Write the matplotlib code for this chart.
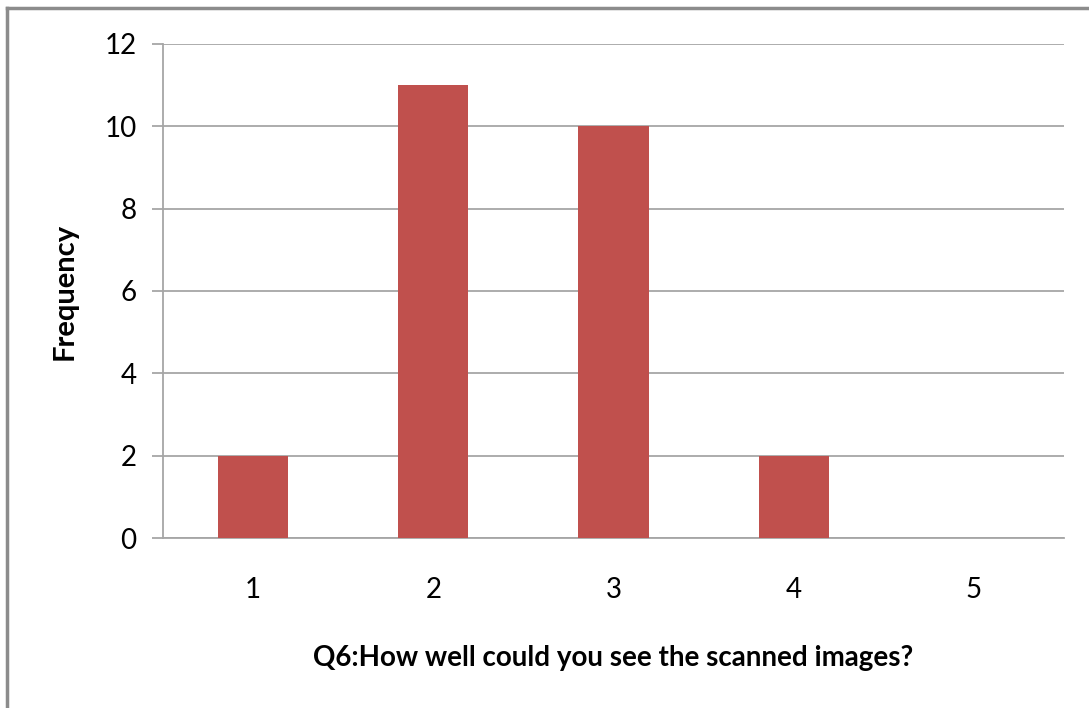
import matplotlib.pyplot as plt
from matplotlib.lines import Line2D

# survey answers for Q6
categories = ["1", "2", "3", "4", "5"]
frequency = [2, 11, 10, 2, 0]
y_ticks = [0, 2, 4, 6, 8, 10, 12]

plt.rcParams['font.family'] = ['Lato', 'DejaVu Sans']

fig = plt.figure(figsize=(10.89, 7.08), dpi=100)
ax = fig.add_axes([0.1497, 0.2401, 0.8273, 0.6978])

grid_col = "#a6a6a6"
xs = range(len(categories))
ax.bar(xs, frequency, width=0.39, color="#c0504d", zorder=3)

ax.set_xlim(-0.5, len(categories) - 0.5)
ax.set_ylim(0, 12)
ax.set_yticks(y_ticks)
ax.set_xticks(list(xs))
ax.set_xticklabels(categories)
ax.yaxis.grid(True, color=grid_col, linewidth=1.3, zorder=0)

for side in ["top", "right"]:
    ax.spines[side].set_visible(False)
for side in ["left", "bottom"]:
    ax.spines[side].set_color(grid_col)
    ax.spines[side].set_linewidth(1.3)

ax.tick_params(axis="y", length=8, width=1.3, color=grid_col, labelsize=20, pad=11)
ax.tick_params(axis="x", length=0, labelsize=20, pad=28)

ax.set_ylabel("Frequency", fontsize=21, fontweight="bold", labelpad=19)
ax.set_xlabel("Q6:How well could you see the scanned images?", fontsize=20,
              fontweight="bold", labelpad=30)

# outer border of the chart box (left and top edges)
fig.add_artist(Line2D([7 / 1089, 7 / 1089], [0, 1 - 8 / 708], color="#8c8c8c",
                      linewidth=2.5, transform=fig.transFigure))
fig.add_artist(Line2D([7 / 1089, 1], [1 - 8 / 708, 1 - 8 / 708], color="#8c8c8c",
                      linewidth=2.5, transform=fig.transFigure))

fig.savefig("out.png", dpi=100, facecolor="white")
